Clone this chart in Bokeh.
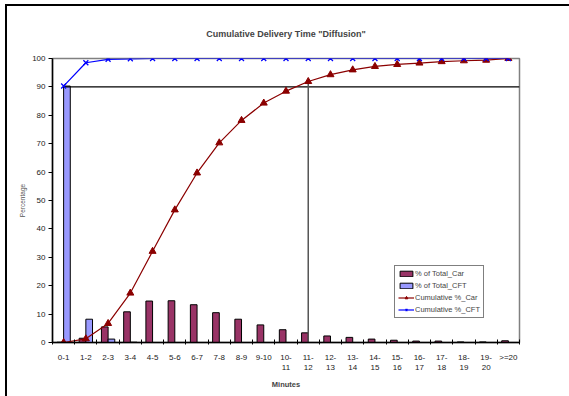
from bokeh.plotting import figure
from bokeh.models import (ColumnDataSource, FixedTicker, Legend, LegendItem,
                          InlineStyleSheet, Range1d)
from bokeh.embed import file_html
from bokeh.resources import INLINE

categories = ["0-1", "1-2", "2-3", "3-4", "4-5", "5-6", "6-7", "7-8", "8-9",
              "9-10", "10-11", "11-12", "12-13", "13-14", "14-15", "15-16",
              "16-17", "17-18", "18-19", "19-20", ">=20"]
tick_labels = ["0-1", "1-2", "2-3", "3-4", "4-5", "5-6", "6-7", "7-8", "8-9",
               "9-10", "10-\n11", "11-\n12", "12-\n13", "13-\n14", "14-\n15",
               "15-\n16", "16-\n17", "17-\n18", "18-\n19", "19-\n20", ">=20"]
pct_car = [0.1, 1.5, 5.5, 10.8, 14.6, 14.7, 13.3, 10.5, 8.2, 6.2, 4.5, 3.4,
           2.3, 1.8, 1.2, 0.8, 0.5, 0.5, 0.2, 0.2, 0.6]
pct_cft = [90.3, 8.2, 1.2, 0.1, 0.0, 0.0, 0.0, 0.0, 0.0, 0.0, 0.0, 0.0,
           0.0, 0.0, 0.0, 0.0, 0.0, 0.0, 0.0, 0.0, 0.0]
cum_car = [0.0, 1.3, 6.7, 17.4, 32.1, 46.7, 59.7, 70.3, 78.2, 84.3, 88.5,
           91.9, 94.3, 96.0, 97.2, 97.9, 98.4, 98.9, 99.2, 99.4, 100.0]
cum_cft = [90.3, 98.5, 99.7, 99.9, 100.0, 100.0, 100.0, 100.0, 100.0, 100.0,
           100.0, 100.0, 100.0, 100.0, 100.0, 100.0, 100.0, 100.0, 100.0,
           100.0, 100.0]
y_ticks = [0, 10, 20, 30, 40, 50, 60, 70, 80, 90, 100]

n = len(categories)
centers = [i + 0.5 for i in range(n)]
bar_w = 0.3

src = ColumnDataSource(dict(
    xc=centers,
    xcar=[c - bar_w / 2 for c in centers],
    xcft=[c + bar_w / 2 for c in centers],
    car=pct_car, cft=pct_cft, ccar=cum_car, ccft=cum_cft,
))

FONT = "Liberation Sans"

p = figure(width=569, height=396, output_backend="svg", toolbar_location=None,
           x_range=Range1d(0, n), y_range=Range1d(0, 100),
           min_border_left=52, min_border_right=50, min_border_top=58,
           min_border_bottom=54)
p.title.text = 'Cumulative Delivery Time "Diffusion"'
p.title.align = "center"
p.title.text_font = FONT
p.title.text_font_size = "9px"
p.title.text_font_style = "bold"
p.title.standoff = 40

p.grid.visible = False
p.outline_line_color = "#808080"
p.outline_line_width = 1.5
p.background_fill_color = "white"
p.border_fill_color = "white"

# axes
xa = p.xaxis[0]
xa.ticker = FixedTicker(ticks=centers, minor_ticks=list(range(n + 1)))
xa.major_label_overrides = {c: lab for c, lab in zip(centers, tick_labels)}
xa.major_tick_in = 0
xa.major_tick_out = 0
xa.minor_tick_in = 3
xa.minor_tick_out = 2
xa.minor_tick_line_color = "black"
xa.axis_line_color = "black"
xa.axis_line_width = 1.5
xa.major_label_text_font = FONT
xa.major_label_text_font_size = "8px"
xa.major_label_text_color = "#222222"
xa.major_label_standoff = 8
xa.axis_label = "Minutes"
xa.axis_label_text_font = FONT
xa.axis_label_text_font_size = "7.5px"
xa.axis_label_text_font_style = "bold"
xa.axis_label_standoff = 5

ya = p.yaxis[0]
ya.ticker = FixedTicker(ticks=y_ticks, minor_ticks=[])
ya.major_tick_in = 0
ya.major_tick_out = 4
ya.axis_line_color = "black"
ya.axis_line_width = 1.5
ya.major_label_text_font = FONT
ya.major_label_text_font_size = "8px"
ya.major_label_text_color = "#222222"
ya.major_label_standoff = 3
ya.axis_label = "Percentage"
ya.axis_label_text_font = FONT
ya.axis_label_text_font_size = "6.5px"
ya.axis_label_text_font_style = "normal"
ya.axis_label_text_color = "#555555"
ya.axis_label_standoff = 3

# bars
r_car = p.vbar(x="xcar", top="car", width=bar_w, source=src,
               fill_color="#993366", line_color="black", line_width=1)
r_cft = p.vbar(x="xcft", top="cft", width=bar_w, source=src,
               fill_color="#9999FF", line_color="black", line_width=1)

# reference lines: 90% level from CFT first point, drop from car at 11-12
p.segment(x0=[centers[0]], y0=[90], x1=[n], y1=[90], line_color="black",
          line_width=1.2)
p.segment(x0=[centers[11]], y0=[0], x1=[centers[11]], y1=[cum_car[11]],
          line_color="#555555", line_width=1.5)

# cumulative lines
l_car = p.line(x="xc", y="ccar", source=src, line_color="#8B0000", line_width=1.2)
s_car = p.scatter(x="xc", y="ccar", source=src, marker="triangle", size=7,
                  fill_color="#8B0000", line_color="#8B0000")
l_cft = p.line(x="xc", y="ccft", source=src, line_color="#0000FF", line_width=1.2)
s_cft = p.scatter(x="xc", y="ccft", source=src, marker="x", size=7,
                  line_color="#0000FF", line_width=1.3)

legend = Legend(items=[
    LegendItem(label="% of Total_Car", renderers=[r_car]),
    LegendItem(label="% of Total_CFT", renderers=[r_cft]),
    LegendItem(label="Cumulative %_Car", renderers=[l_car, s_car]),
    LegendItem(label="Cumulative %_CFT", renderers=[l_cft, s_cft]),
], location=(342, 24))
legend.border_line_color = "black"
legend.border_line_width = 1
legend.label_text_font = FONT
legend.label_text_font_size = "7.5px"
legend.label_height = 9
legend.glyph_height = 7
legend.glyph_width = 16
legend.spacing = 3
legend.padding = 3
legend.margin = 0
legend.label_standoff = 1
legend.background_fill_alpha = 1
p.add_layout(legend, "center")

p.stylesheets = [InlineStyleSheet(css="""
:host { position: relative; }
:host::after { content: ""; position: absolute; left: 5px; top: 4px;
  width: 700px; height: 500px; border: 2px solid black; pointer-events: none;
  box-sizing: border-box; }
""")]

open("out.html", "w").write(file_html(p, INLINE))
